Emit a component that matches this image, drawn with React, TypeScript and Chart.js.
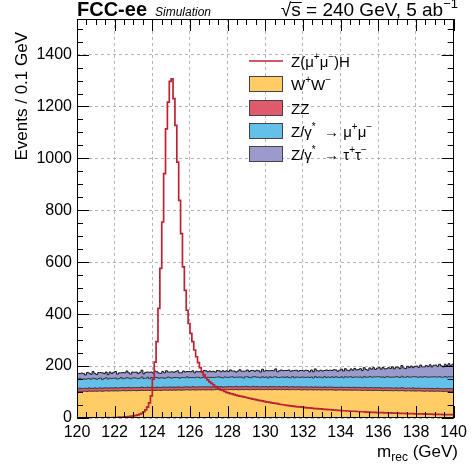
import React, { useEffect, useRef } from 'react';
import { Chart, registerables } from 'chart.js';
Chart.register(...registerables);

// 0.1 GeV bins from 120.0 to 139.9 GeV (200 bins)
const signalZH = [
  0,0,1,0,0,1,0,1,1,0,
  1,1,0,1,1,1,2,1,1,2,
  2,2,3,2,3,4,4,5,6,7,
  9,10,12,15,18,24,31,42,58,85,
  150,215,294,422,576,755,941,1114,1217,1297,
  1306,1230,1127,986,838,710,582,492,415,364,
  326,294,262,236,213,194,178,166,155,147,
  139,133,128,121,117,113,108,106,102,99,
  97,94,93,90,88,86,84,83,81,80,
  78,76,75,73,72,70,68,67,66,64,
  62,61,60,58,57,56,55,53,52,51,
  50,49,48,47,46,45,44,43,43,42,
  41,40,39,39,38,37,36,36,35,35,
  34,33,33,32,32,31,30,30,29,29,
  28,28,28,27,27,26,26,26,25,25,
  24,24,24,23,23,23,22,22,22,21,
  21,21,21,20,20,20,20,19,19,19,
  19,18,18,18,18,17,17,17,17,16,
  16,16,16,16,15,15,15,15,15,14,
  14,14,14,14,13,13,13,13,13,13,
];

const bkgWW = [
  102,103,102,103,103,102,104,103,103,104,
  103,104,104,103,104,105,104,104,105,104,
  105,104,105,105,106,105,105,106,105,106,
  106,105,106,106,107,106,106,107,106,107,
  107,106,107,107,106,107,108,107,107,108,
  107,108,107,108,108,107,108,108,109,108,
  108,109,108,108,109,108,109,109,108,109,
  109,108,109,109,110,109,109,108,109,109,
  109,110,109,109,110,109,109,110,109,110,
  110,109,109,110,109,110,110,109,110,109,
  110,109,110,109,110,110,109,110,109,110,
  109,110,109,109,110,109,109,110,109,108,
  109,109,108,109,109,108,109,108,109,108,
  108,109,108,108,109,108,108,107,108,108,
  108,107,108,107,108,107,107,108,107,107,
  107,106,107,107,106,107,106,106,107,106,
  106,106,105,106,106,105,106,105,105,106,
  105,105,106,105,104,105,105,104,105,104,
  104,105,104,104,103,104,104,103,104,103,
  103,104,103,103,102,103,103,102,103,102,
];

const bkgZZ = [
  11,12,11,11,12,11,12,11,11,12,
  11,11,12,11,12,11,11,12,11,11,
  12,11,11,12,11,11,12,12,11,11,
  11,12,11,11,12,11,11,12,11,12,
  11,11,12,11,11,12,11,11,12,11,
  12,11,11,12,11,11,11,12,11,11,
  11,12,11,11,11,12,11,11,12,11,
  11,11,12,11,11,11,12,11,11,11,
  12,11,11,11,12,11,11,11,11,12,
  11,11,11,12,11,11,10,11,11,11,
  11,10,11,11,11,10,11,11,10,11,
  11,11,10,11,11,10,11,10,11,11,
  10,11,11,10,11,10,11,11,10,11,
  10,11,10,11,10,11,10,11,10,10,
  11,10,10,11,10,10,11,10,10,11,
  10,10,11,10,10,10,11,10,10,10,
  11,10,10,10,10,11,10,10,10,10,
  10,10,11,10,10,10,10,10,11,10,
  10,10,10,10,11,10,10,10,10,10,
  10,11,10,10,10,10,10,11,10,10,
];

const bkgZmumu = [
  36,38,35,37,34,38,36,35,39,36,
  35,37,38,34,36,39,35,37,36,38,
  37,35,36,39,34,37,38,36,35,37,
  38,36,35,37,39,35,36,38,34,37,
  36,39,37,35,38,36,34,37,39,36,
  35,37,38,36,34,38,37,35,39,36,
  37,35,36,38,37,34,36,39,35,37,
  36,38,35,37,36,39,35,36,38,37,
  35,37,39,36,35,37,38,36,34,37,
  38,36,35,37,39,36,37,35,38,36,
  37,35,38,36,37,39,36,35,38,37,
  36,38,37,35,39,36,38,37,36,39,
  38,36,39,37,38,36,40,37,39,38,
  37,40,38,39,37,40,38,41,39,38,
  40,38,41,39,40,42,38,40,41,39,
  41,39,42,40,41,43,40,42,41,43,
  42,41,43,40,44,42,41,43,42,44,
  43,41,44,42,43,45,42,44,43,45,
  44,42,45,43,46,44,43,45,44,46,
  45,43,46,44,45,47,44,46,45,47,
];

const bkgZtautau = [
  22,18,25,20,17,24,21,19,26,20,
  18,23,21,26,19,22,17,24,20,23,
  25,19,22,18,24,21,26,20,18,23,
  21,24,19,22,26,18,23,20,25,21,
  19,25,22,20,17,24,21,27,19,22,
  24,20,23,26,21,18,25,22,20,24,
  22,26,19,23,21,25,20,24,27,21,
  25,21,24,20,26,23,22,27,21,25,
  23,27,22,25,20,24,28,23,26,22,
  26,23,28,24,21,27,25,22,29,24,
  25,28,23,27,24,30,22,26,28,24,
  27,24,29,25,22,28,26,23,27,25,
  24,28,25,22,27,24,29,26,23,27,
  26,23,29,25,28,24,30,26,23,28,
  29,26,31,27,24,30,28,33,27,30,
  32,28,34,30,27,33,31,36,29,33,
  35,31,37,33,30,36,34,39,32,36,
  38,34,41,36,33,39,37,42,35,40,
  42,38,45,40,37,44,41,47,39,44,
  46,41,48,44,40,47,45,50,43,48,
];

const xMin = 120;
const xMax = 140;
const yMax = 1537;
const xStep = 2;
const yStep = 200;

const FONT = "'Liberation Sans', Arial, Helvetica, sans-serif";
const SIG_COLOR = '#bb2233';

type Part = [string, ('n' | 'sup' | 'sub')?];

function toSteps(vals: number[]) {
  const pts = vals.map((v, i) => ({ x: (xMin * 10 + i) / 10, y: v }));
  pts.push({ x: xMax, y: vals[vals.length - 1] });
  return pts;
}

function drawRich(ctx: CanvasRenderingContext2D, parts: Part[], x: number, y: number, size: number, align: 'left' | 'right', style = '') {
  const fontFor = (k?: string) => `${style}${k === 'sup' || k === 'sub' ? Math.round(size * 0.68) : size}px ${FONT}`;
  let total = 0;
  for (const [t, k] of parts) {
    ctx.font = fontFor(k);
    total += ctx.measureText(t).width;
  }
  let cx = align === 'right' ? x - total : x;
  ctx.textAlign = 'left';
  ctx.textBaseline = 'alphabetic';
  for (const [t, k] of parts) {
    ctx.font = fontFor(k);
    const dy = k === 'sup' ? -size * 0.42 : k === 'sub' ? size * 0.25 : 0;
    ctx.fillText(t, cx, y + dy);
    cx += ctx.measureText(t).width;
  }
  return total;
}

const legendItems: { kind: 'line' | 'box'; color: string; parts: Part[] }[] = [
  { kind: 'line', color: SIG_COLOR, parts: [['Z(μ'], ['+', 'sup'], ['μ'], ['−', 'sup'], [')H']] },
  { kind: 'box', color: '#ffcc66', parts: [['W'], ['+', 'sup'], ['W'], ['−', 'sup']] },
  { kind: 'box', color: '#de5a6c', parts: [['ZZ']] },
  { kind: 'box', color: '#64c0e8', parts: [['Z/γ'], ['*', 'sup'], ['  → μ'], ['+', 'sup'], ['μ'], ['−', 'sup']] },
  { kind: 'box', color: '#9a9acc', parts: [['Z/γ'], ['*', 'sup'], ['  → τ'], ['+', 'sup'], ['τ'], ['−', 'sup']] },
];

const decorPlugin = {
  id: 'decor',
  afterDatasetsDraw(chart: any) {
    const { ctx, chartArea: a, scales } = chart;
    const x = scales.x;
    const y = scales.y;
    ctx.save();
    ctx.strokeStyle = '#000';
    ctx.lineWidth = 1;
    ctx.beginPath();
    // x ticks (bottom and top), major every 2, minor every 0.5
    for (let k = 0; k <= 40; k++) {
      const v = xMin + k * 0.5;
      const px = Math.round(x.getPixelForValue(v)) + 0.5;
      const len = k % 4 === 0 ? 12 : 6;
      ctx.moveTo(px, a.bottom);
      ctx.lineTo(px, a.bottom - len);
      ctx.moveTo(px, a.top);
      ctx.lineTo(px, a.top + len);
    }
    // y ticks, major every 200, minor every 50
    for (let k = 0; k * 50 <= yMax; k++) {
      const v = k * 50;
      const py = Math.round(y.getPixelForValue(v)) + 0.5;
      const len = k % 4 === 0 ? 12 : 6;
      ctx.moveTo(a.left, py);
      ctx.lineTo(a.left + len, py);
      ctx.moveTo(a.right, py);
      ctx.lineTo(a.right - len, py);
    }
    ctx.stroke();
    ctx.strokeRect(Math.round(a.left) + 0.5, Math.round(a.top) + 0.5, Math.round(a.right - a.left) - 1, Math.round(a.bottom - a.top) - 1);

    // Legend
    const lx = 249;
    const rows = [61, 84, 108, 131, 154];
    legendItems.forEach((it, i) => {
      const cy = rows[i];
      if (it.kind === 'line') {
        ctx.strokeStyle = it.color;
        ctx.lineWidth = 1.5;
        ctx.beginPath();
        ctx.moveTo(lx, cy);
        ctx.lineTo(lx + 34, cy);
        ctx.stroke();
      } else {
        ctx.fillStyle = it.color;
        ctx.fillRect(lx, cy - 8, 34, 16);
        ctx.strokeStyle = '#444';
        ctx.lineWidth = 1;
        ctx.strokeRect(lx + 0.5, cy - 7.5, 33, 15);
      }
      ctx.fillStyle = '#000';
      drawRich(ctx, it.parts, 291, cy + 5.5, 15, 'left');
    });

    // Title
    ctx.fillStyle = '#000';
    ctx.textBaseline = 'alphabetic';
    ctx.textAlign = 'left';
    ctx.font = `bold 20px ${FONT}`;
    ctx.fillText('FCC-ee', 77, 16);
    ctx.font = `italic 12px ${FONT}`;
    ctx.fillText('Simulation', 155, 16);
    const w = drawRich(ctx, [['√s = 240 GeV, 5 ab'], ['−1', 'sup']], 458, 16, 19, 'right');
    // overline of the square root
    ctx.font = `19px ${FONT}`;
    const rootW = ctx.measureText('√').width;
    const sW = ctx.measureText('s').width;
    const startX = 458 - w;
    ctx.strokeStyle = '#000';
    ctx.lineWidth = 1;
    ctx.beginPath();
    ctx.moveTo(startX + rootW - 1, 2.5);
    ctx.lineTo(startX + rootW + sW + 1, 2.5);
    ctx.stroke();

    // Axis titles
    ctx.save();
    ctx.translate(22, 32);
    ctx.rotate(-Math.PI / 2);
    ctx.font = `17px ${FONT}`;
    ctx.textAlign = 'right';
    ctx.textBaseline = 'middle';
    ctx.fillText('Events / 0.1 GeV', 0, 0);
    ctx.restore();
    ctx.fillStyle = '#000';
    drawRich(ctx, [['m'], ['rec', 'sub'], [' (GeV)']], 458, 457, 17, 'right');
    ctx.restore();
  },
};

export default function App() {
  const ref = useRef<HTMLCanvasElement | null>(null);
  useEffect(() => {
    if (!ref.current) return;
    const common = { pointRadius: 0, stepped: true as const, borderWidth: 1, borderColor: '#333' };
    const chart = new Chart(ref.current, {
      type: 'line',
      data: {
        datasets: [
          { label: 'Z(μ+μ−)H', data: toSteps(signalZH), stack: 'sig', pointRadius: 0, stepped: true, borderColor: SIG_COLOR, borderWidth: 1.7, fill: false },
          { label: 'W+W−', data: toSteps(bkgWW), stack: 'bkg', ...common, backgroundColor: '#ffcc66', fill: 'origin' },
          { label: 'ZZ', data: toSteps(bkgZZ), stack: 'bkg', ...common, backgroundColor: '#de5a6c', fill: 'stack' },
          { label: 'Z/γ* → μ+μ−', data: toSteps(bkgZmumu), stack: 'bkg', ...common, backgroundColor: '#64c0e8', fill: 'stack' },
          { label: 'Z/γ* → τ+τ−', data: toSteps(bkgZtautau), stack: 'bkg', ...common, borderColor: '#111', backgroundColor: '#9a9acc', fill: 'stack' },
        ] as any,
      },
      options: {
        animation: false,
        responsive: false,
        devicePixelRatio: 1,
        layout: { padding: { top: 19, right: 14, left: 0, bottom: 0 } },
        plugins: { legend: { display: false }, tooltip: { enabled: false } },
        scales: {
          x: {
            type: 'linear',
            min: xMin,
            max: xMax,
            afterFit: (s: any) => { s.height = 47; },
            ticks: { stepSize: xStep, includeBounds: false, color: '#000', padding: 5, font: { family: FONT, size: 16 }, maxRotation: 0, callback: (v: any) => String(v) },
            grid: { color: '#b4b4b4', drawTicks: false },
            border: { display: false, dash: [3, 3] },
          },
          y: {
            type: 'linear',
            stacked: true,
            min: 0,
            max: yMax,
            afterFit: (s: any) => { s.width = 77; },
            ticks: { stepSize: yStep, includeBounds: false, color: '#000', padding: 5, font: { family: FONT, size: 16 }, callback: (v: any) => String(v) },
            grid: { color: '#b4b4b4', drawTicks: false },
            border: { display: false, dash: [3, 3] },
          },
        },
      },
      plugins: [decorPlugin],
    });
    return () => chart.destroy();
  }, []);
  return (
    <div style={{ position: 'absolute', left: 0, top: 0, width: 472, height: 465, background: '#fff' }}>
      <canvas ref={ref} width={472} height={465} style={{ display: 'block' }} />
    </div>
  );
}
